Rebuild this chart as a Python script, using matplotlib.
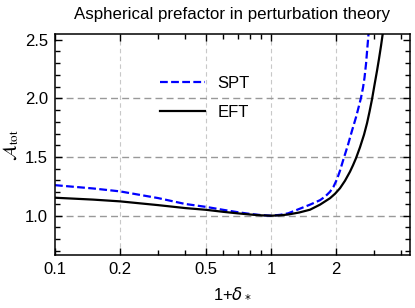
import matplotlib
matplotlib.use("Agg")
import matplotlib.pyplot as plt
from matplotlib.ticker import FixedLocator, NullFormatter, FixedFormatter

plt.rcParams['font.family'] = ['Liberation Sans', 'DejaVu Sans']
plt.rcParams['mathtext.fontset'] = 'dejavusans'

# Data
spt_x = [0.1, 0.15, 0.2, 0.3, 0.4, 0.5, 0.6, 0.7, 0.8, 0.9, 1.0, 1.1, 1.2, 1.362, 1.516,
         1.686, 1.778, 1.876, 1.947, 2.021, 2.086, 2.154, 2.273, 2.371, 2.475, 2.555,
         2.610, 2.666, 2.709, 2.754, 2.783, 2.813, 2.843]
spt_y = [1.26, 1.232, 1.207, 1.15, 1.10, 1.075, 1.05, 1.03, 1.015, 1.005, 1.0, 1.007,
         1.02, 1.060, 1.094, 1.132, 1.162, 1.204, 1.247, 1.311, 1.383, 1.468, 1.605,
         1.724, 1.839, 1.937, 2.005, 2.090, 2.175, 2.295, 2.397, 2.499, 2.601]
eft_x = [0.1, 0.15, 0.2, 0.3, 0.4, 0.5, 0.6, 0.7, 0.8, 0.9, 1.0, 1.1, 1.2, 1.35, 1.516,
         1.686, 1.876, 1.979, 2.086, 2.201, 2.321, 2.397, 2.475, 2.582, 2.695, 2.783,
         2.858, 2.935, 3.015, 3.096, 3.162, 3.231, 3.300]
eft_y = [1.153, 1.137, 1.122, 1.09, 1.065, 1.05, 1.033, 1.02, 1.01, 1.003, 1.0, 1.003,
         1.01, 1.027, 1.051, 1.094, 1.149, 1.187, 1.234, 1.298, 1.375, 1.430, 1.490,
         1.583, 1.690, 1.788, 1.886, 1.992, 2.116, 2.235, 2.337, 2.448, 2.567]

x_major = [0.1, 0.2, 0.5, 1, 2]
x_major_labels = ['0.1', '0.2', '0.5', '1', '2']
x_minor = [0.3, 0.4, 0.6, 0.7, 0.8, 0.9, 3, 4]
x_grid = [0.2, 0.5, 1, 2]
y_major = [1.0, 1.5, 2.0, 2.5]
y_major_labels = ['1.0', '1.5', '2.0', '2.5']
y_minor = [0.7, 0.8, 0.9, 1.1, 1.2, 1.3, 1.4, 1.6, 1.7, 1.8, 1.9, 2.1, 2.2, 2.3, 2.4]
y_grid = [1.0, 1.5, 2.0]

fig = plt.figure(figsize=(4.15, 3.08), dpi=100)
ax = fig.add_axes([55/415, 1 - 255/308, 355/415, 221/308])

ax.set_xscale('log')
ax.set_xlim(0.1, 4.4)
ax.set_ylim(0.665, 2.548)

for g in x_grid:
    ax.axvline(g, color='#c8c8c8', lw=0.8, dashes=(4, 3), zorder=0)
for g in y_grid:
    ax.axhline(g, color='#999999', lw=1.0, dashes=(5, 3), zorder=0)

ax.plot(spt_x, spt_y, color='#0000ff', lw=1.6, dashes=(3.5, 1.5), label='SPT')
ax.plot(eft_x, eft_y, color='black', lw=1.6, label='EFT')

ax.xaxis.set_major_locator(FixedLocator(x_major))
ax.xaxis.set_major_formatter(FixedFormatter(x_major_labels))
ax.xaxis.set_minor_locator(FixedLocator(x_minor))
ax.xaxis.set_minor_formatter(NullFormatter())
ax.yaxis.set_major_locator(FixedLocator(y_major))
ax.yaxis.set_major_formatter(FixedFormatter(y_major_labels))
ax.yaxis.set_minor_locator(FixedLocator(y_minor))

ax.tick_params(which='both', direction='in', top=True, right=True, labelsize=12,
               width=1.0, colors='black', pad=5)
ax.tick_params(which='major', length=5)
ax.tick_params(which='minor', length=3.5)
for s in ax.spines.values():
    s.set_linewidth(1.1)

ax.set_title('Aspherical prefactor in perturbation theory', fontsize=12.2, pad=11)
ax.set_xlabel(r'1+$\delta_*$', fontsize=12, labelpad=6)
ax.set_ylabel(r'$\mathcal{A}_{\rm tot}$', fontsize=13.5, labelpad=3, math_fontfamily='stix')

ax.legend(loc='upper left', bbox_to_anchor=(0.296, 0.812), frameon=False, fontsize=12,
          handlelength=2.7, handletextpad=0.75, labelspacing=0.85, borderpad=0,
          borderaxespad=0)

fig.savefig('out.png', dpi=100)
